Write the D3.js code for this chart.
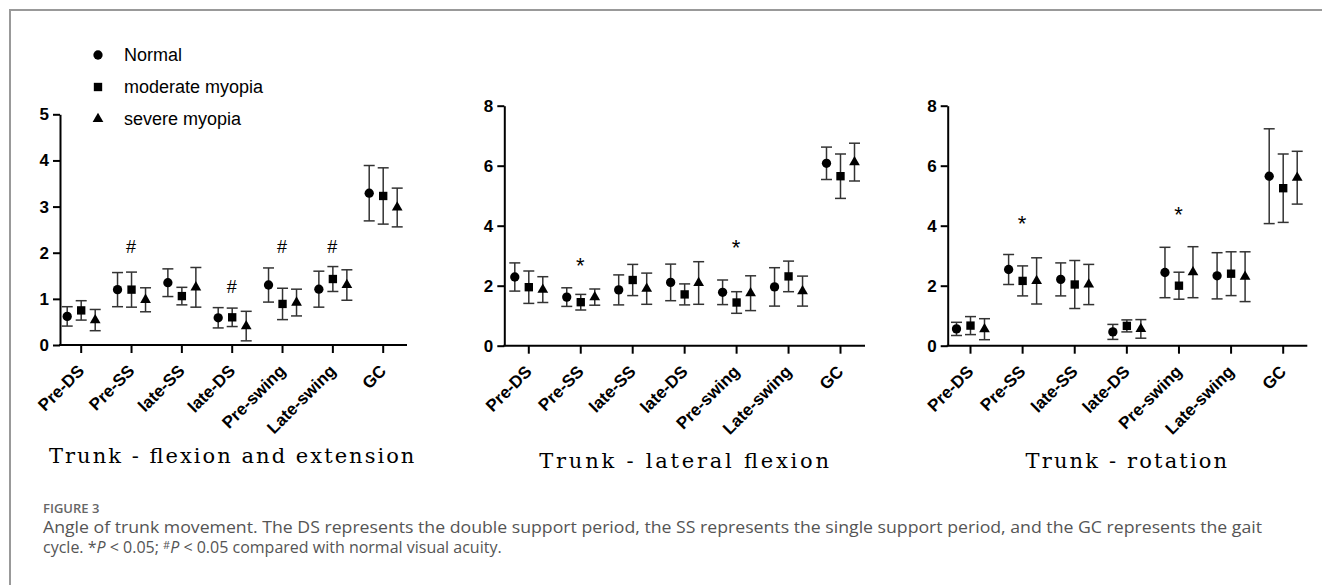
<!DOCTYPE html>
<html>
<head>
<meta charset="utf-8">
<script src="https://cdn.jsdelivr.net/npm/d3@7"></script>
<style>
  body { margin: 0; background: #fff; }
</style>
</head>
<body>
<div id="chart"></div>
<script>
// trunk angle figure - three dot/error-bar panels

const categories = ["Pre-DS", "Pre-SS", "late-SS", "late-DS", "Pre-swing", "Late-swing", "GC"];
const groups = ["Normal", "moderate myopia", "severe myopia"];
const titles = ["Trunk - flexion and extension", "Trunk - lateral flexion", "Trunk - rotation"];

// rows: Normal, moderate myopia, severe myopia
const flexMean = [
    [0.62, 1.20, 1.35, 0.59, 1.30, 1.21, 3.29],
    [0.75, 1.20, 1.06, 0.60, 0.89, 1.43, 3.23],
    [0.54, 0.98, 1.25, 0.41, 0.92, 1.30, 2.98]
];
const flexSd = [
    [0.21, 0.37, 0.30, 0.22, 0.37, 0.39, 0.60],
    [0.21, 0.38, 0.19, 0.20, 0.34, 0.27, 0.61],
    [0.23, 0.26, 0.43, 0.32, 0.29, 0.33, 0.42]
];
const latMean = [
    [2.29, 1.62, 1.86, 2.11, 1.78, 1.96, 6.08],
    [1.95, 1.45, 2.19, 1.71, 1.44, 2.31, 5.65],
    [1.87, 1.62, 1.90, 2.09, 1.75, 1.82, 6.12]
];
const latSd = [
    [0.47, 0.31, 0.50, 0.61, 0.41, 0.64, 0.54],
    [0.54, 0.26, 0.52, 0.35, 0.36, 0.51, 0.74],
    [0.43, 0.27, 0.52, 0.71, 0.58, 0.50, 0.63]
];
const rotMean = [
    [0.56, 2.54, 2.21, 0.46, 2.44, 2.33, 5.65],
    [0.67, 2.16, 2.04, 0.66, 2.00, 2.40, 5.25],
    [0.55, 2.16, 2.04, 0.56, 2.45, 2.30, 5.60]
];
const rotSd = [
    [0.22, 0.50, 0.55, 0.25, 0.84, 0.77, 1.58],
    [0.30, 0.50, 0.80, 0.20, 0.45, 0.73, 1.14],
    [0.35, 0.77, 0.67, 0.31, 0.85, 0.83, 0.88]
];

const flexTicks = [0, 1, 2, 3, 4, 5];
const latTicks = [0, 2, 4, 6, 8];
const rotTicks = [0, 2, 4, 6, 8];

// significance marks: category, symbol, height in data units
const flexMarks = [["Pre-SS", "#", 2.13], ["late-DS", "#", 1.26], ["Pre-swing", "#", 2.13], ["Late-swing", "#", 2.13]];
const latMarks = [["Pre-SS", "*", 2.80], ["Pre-swing", "*", 3.39]];
const rotMarks = [["Pre-SS", "*", 4.19], ["Pre-swing", "*", 4.50]];

const width = 1322, height = 585;
const symbolTypes = [d3.symbolCircle, d3.symbolSquare, d3.symbolTriangle];
const symbolSizes = [68, 70, 50];
const capHalf = 5.5;
const errColor = "#333";
const sansFont = "'Liberation Sans', Arial, sans-serif";

const panels = [
    { mean: flexMean, sd: flexSd, ticks: flexTicks, marks: flexMarks, title: titles[0], x0: 60, x1: 407, first: 80.7, last: 382.7, yTop: 114.3, yBot: 345, titleY: 463 },
    { mean: latMean, sd: latSd, ticks: latTicks, marks: latMarks, title: titles[1], x0: 504.3, x1: 865, first: 528.3, last: 840, yTop: 105.7, yBot: 345.7, titleY: 468 },
    { mean: rotMean, sd: rotSd, ticks: rotTicks, marks: rotMarks, title: titles[2], x0: 947.7, x1: 1307.3, first: 970, last: 1282.7, yTop: 105.7, yBot: 345.7, titleY: 468 }
];

const svg = d3.select("#chart")
    .append("svg")
    .attr("width", width)
    .attr("height", height);

// frame
svg.append("path")
    .attr("d", `M10,${height} V10 H${width}`)
    .attr("fill", "none")
    .attr("stroke", "#999")
    .attr("stroke-width", 2);

const offset = d3.scalePoint().domain(groups).range([-13.5, 14.5]);

function styleTickText(sel) {
    sel.style("font-family", sansFont)
        .style("font-size", "17px")
        .style("font-weight", "bold")
        .attr("fill", "#000");
}

panels.forEach(p => {
    const x = d3.scalePoint().domain(categories).range([p.first, p.last]);
    const y = d3.scaleLinear().domain([0, d3.max(p.ticks)]).range([p.yBot, p.yTop]);
    const g = svg.append("g");

    const gy = g.append("g")
        .attr("transform", `translate(${p.x0},0)`)
        .call(d3.axisLeft(y).tickValues(p.ticks).tickFormat(d3.format("d"))
            .tickSize(7).tickSizeOuter(0).tickPadding(4));
    gy.select(".domain").attr("stroke-width", 2);
    gy.selectAll(".tick line").attr("stroke-width", 2);
    gy.selectAll(".tick text").call(styleTickText);

    const gx = g.append("g")
        .attr("transform", `translate(0,${p.yBot})`)
        .call(d3.axisBottom(x).tickSize(8).tickSizeOuter(0));
    gx.select(".domain").remove();
    gx.selectAll(".tick line").attr("stroke-width", 2);
    gx.selectAll(".tick text")
        .call(styleTickText)
        .attr("x", 0).attr("y", 0).attr("dy", null)
        .attr("text-anchor", "end")
        .attr("transform", "translate(4,27) rotate(-45)");
    g.append("line")
        .attr("x1", p.x0 - 1).attr("x2", p.x1)
        .attr("y1", p.yBot).attr("y2", p.yBot)
        .attr("stroke", "#000").attr("stroke-width", 2);

    const points = [];
    groups.forEach((grp, gi) => {
        categories.forEach((cat, ci) => {
            points.push({ grp: grp, gi: gi, cat: cat, m: p.mean[gi][ci], s: p.sd[gi][ci] });
        });
    });

    const err = g.append("g").attr("stroke", errColor).attr("stroke-width", 1.5);
    const px = d => x(d.cat) + offset(d.grp);
    err.selectAll(".vbar").data(points).enter().append("line")
        .attr("x1", px).attr("x2", px)
        .attr("y1", d => y(d.m + d.s)).attr("y2", d => y(d.m - d.s));
    err.selectAll(".capTop").data(points).enter().append("line")
        .attr("x1", d => px(d) - capHalf).attr("x2", d => px(d) + capHalf)
        .attr("y1", d => y(d.m + d.s)).attr("y2", d => y(d.m + d.s));
    err.selectAll(".capBot").data(points).enter().append("line")
        .attr("x1", d => px(d) - capHalf).attr("x2", d => px(d) + capHalf)
        .attr("y1", d => y(d.m - d.s)).attr("y2", d => y(d.m - d.s));

    g.append("g").selectAll("path").data(points).enter().append("path")
        .attr("transform", d => `translate(${px(d)},${y(d.m)})`)
        .attr("d", d => d3.symbol(symbolTypes[d.gi], symbolSizes[d.gi])())
        .attr("fill", "#000");

    g.append("g").selectAll("text").data(p.marks).enter().append("text")
        .attr("x", d => x(d[0]))
        .attr("y", d => y(d[2]))
        .attr("dy", d => d[1] === "*" ? "0.5em" : "0.36em")
        .attr("text-anchor", "middle")
        .style("font-family", sansFont)
        .style("font-size", d => d[1] === "*" ? "22px" : "18px")
        .text(d => d[1]);

    g.append("text")
        .attr("x", x(categories[3]))
        .attr("y", p.titleY)
        .attr("text-anchor", "middle")
        .attr("textLength", p.title.length * 12.6)
        .attr("lengthAdjust", "spacing")
        .style("font-family", "'DejaVu Serif', 'Liberation Serif', serif")
        .style("font-size", "21px")
        .text(p.title);
});

// legend
const legend = svg.append("g");
groups.forEach((grp, gi) => {
    const ly = 55 + gi * 32;
    legend.append("path")
        .attr("transform", `translate(98,${ly})`)
        .attr("d", d3.symbol(symbolTypes[gi], symbolSizes[gi])())
        .attr("fill", "#000");
    legend.append("text")
        .attr("x", 124)
        .attr("y", ly)
        .attr("dy", "0.36em")
        .style("font-family", sansFont)
        .style("font-size", "18px")
        .text(grp);
});

// caption
svg.append("text")
    .attr("x", 43).attr("y", 513)
    .style("font-family", "'Open Sans', sans-serif")
    .style("font-size", "13px").style("font-weight", "600")
    .attr("fill", "#666")
    .text("FIGURE 3");
const capLine1 = "Angle of trunk movement. The DS represents the double support period, the SS represents the single support period, and the GC represents the gait";
svg.append("text")
    .attr("x", 43).attr("y", 533)
    .attr("textLength", 1219)
    .attr("lengthAdjust", "spacingAndGlyphs")
    .style("font-family", "'Open Sans', sans-serif").style("font-size", "16px")
    .attr("fill", "#555")
    .text(capLine1);
const cap2 = svg.append("text")
    .attr("x", 43).attr("y", 553)
    .style("font-family", "'Open Sans', sans-serif").style("font-size", "16px")
    .attr("fill", "#555");
cap2.append("tspan").text("cycle. *");
cap2.append("tspan").attr("font-style", "italic").text("P");
cap2.append("tspan").text(" < 0.05; ");
cap2.append("tspan").style("font-size", "11px").attr("baseline-shift", "4").text("#");
cap2.append("tspan").attr("font-style", "italic").text("P");
cap2.append("tspan").text(" < 0.05 compared with normal visual acuity.");
</script>
</body>
</html>
